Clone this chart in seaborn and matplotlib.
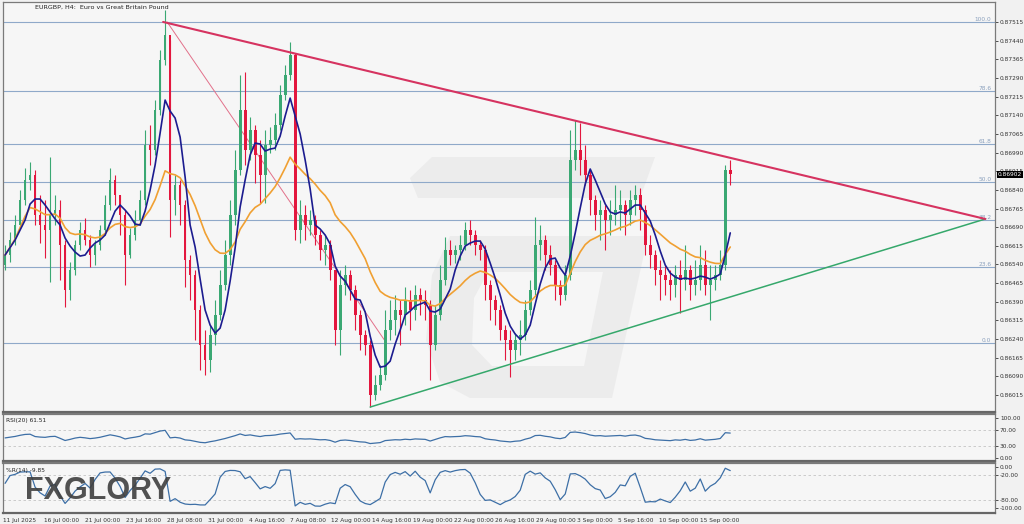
import numpy as np
import pandas as pd
import seaborn as sns
import matplotlib.pyplot as plt
import matplotlib.transforms as mtransforms
from matplotlib.patches import Polygon

# EURGBP H4 candles (one candle per ~2 bars), open = previous close
first_open = 0.86538
close = [0.86578, 0.86638, 0.86699, 0.86799, 0.86879, 0.86900, 0.86739, 0.86699, 0.86679, 0.86739,
         0.86759, 0.86618, 0.86437, 0.86518, 0.86618, 0.86679, 0.86638, 0.86578, 0.86618, 0.86679,
         0.86779, 0.86879, 0.86819, 0.86739, 0.86578, 0.86658, 0.86719, 0.86799, 0.87020, 0.87000,
         0.87161, 0.87362, 0.87462, 0.86799, 0.86859, 0.86779, 0.86558, 0.86498, 0.86357, 0.86216,
         0.86156, 0.86256, 0.86337, 0.86457, 0.86578, 0.86739, 0.86920, 0.87161, 0.87000, 0.87080,
         0.86980, 0.86900, 0.87020, 0.87040, 0.87100, 0.87221, 0.87302, 0.87382, 0.86679, 0.86739,
         0.86699, 0.86719, 0.86658, 0.86598, 0.86618, 0.86518, 0.86276, 0.86457, 0.86498, 0.86437,
         0.86337, 0.86256, 0.86216, 0.86015, 0.86055, 0.86095, 0.86276, 0.86317, 0.86357, 0.86337,
         0.86397, 0.86357, 0.86417, 0.86397, 0.86377, 0.86216, 0.86337, 0.86477, 0.86598, 0.86578,
         0.86598, 0.86618, 0.86679, 0.86658, 0.86618, 0.86598, 0.86457, 0.86397, 0.86357, 0.86276,
         0.86236, 0.86196, 0.86236, 0.86256, 0.86357, 0.86437, 0.86618, 0.86638, 0.86578, 0.86538,
         0.86457, 0.86417, 0.86498, 0.86960, 0.87000, 0.86960, 0.86900, 0.86799, 0.86739, 0.86759,
         0.86719, 0.86739, 0.86759, 0.86779, 0.86739, 0.86799, 0.86819, 0.86759, 0.86618, 0.86578,
         0.86518, 0.86498, 0.86477, 0.86457, 0.86498, 0.86477, 0.86518, 0.86457, 0.86477, 0.86538,
         0.86457, 0.86477, 0.86498, 0.86538, 0.86920, 0.86902]
high = [0.86618, 0.86670, 0.86739, 0.86839, 0.86928, 0.86952, 0.86920, 0.86819, 0.86799, 0.86972,
        0.86819, 0.86799, 0.86638, 0.86550, 0.86638, 0.86711, 0.86727, 0.86658, 0.86638, 0.86699,
        0.86819, 0.86928, 0.86900, 0.86819, 0.86759, 0.86687, 0.86759, 0.86839, 0.87080, 0.87100,
        0.87201, 0.87402, 0.87563, 0.87442, 0.86900, 0.86879, 0.86799, 0.86578, 0.86518, 0.86377,
        0.86276, 0.86297, 0.86397, 0.86518, 0.86638, 0.86799, 0.87000, 0.87302, 0.87314, 0.87133,
        0.87100, 0.87040, 0.87080, 0.87092, 0.87149, 0.87261, 0.87342, 0.87434, 0.87390, 0.86799,
        0.86779, 0.86759, 0.86739, 0.86679, 0.86658, 0.86638, 0.86518, 0.86518, 0.86538, 0.86518,
        0.86457, 0.86357, 0.86276, 0.86236, 0.86095, 0.86136, 0.86357, 0.86397, 0.86417, 0.86397,
        0.86449, 0.86437, 0.86457, 0.86445, 0.86437, 0.86397, 0.86377, 0.86538, 0.86650, 0.86638,
        0.86618, 0.86658, 0.86711, 0.86719, 0.86679, 0.86638, 0.86618, 0.86477, 0.86417, 0.86377,
        0.86297, 0.86276, 0.86264, 0.86317, 0.86397, 0.86477, 0.86731, 0.86699, 0.86658, 0.86618,
        0.86558, 0.86477, 0.86538, 0.87080, 0.87121, 0.87109, 0.87020, 0.86920, 0.86819, 0.86799,
        0.86779, 0.86799, 0.86859, 0.86839, 0.86799, 0.86839, 0.86859, 0.86847, 0.86779, 0.86658,
        0.86598, 0.86558, 0.86538, 0.86518, 0.86538, 0.86558, 0.86618, 0.86538, 0.86558, 0.86618,
        0.86598, 0.86538, 0.86538, 0.86598, 0.86940, 0.86960]
low = [0.86518, 0.86550, 0.86618, 0.86687, 0.86779, 0.86839, 0.86699, 0.86626, 0.86566, 0.86469,
       0.86699, 0.86477, 0.86369, 0.86397, 0.86498, 0.86598, 0.86618, 0.86530, 0.86538, 0.86598,
       0.86658, 0.86759, 0.86779, 0.86658, 0.86457, 0.86566, 0.86638, 0.86699, 0.86779, 0.86940,
       0.86980, 0.87141, 0.87342, 0.86650, 0.86739, 0.86699, 0.86449, 0.86397, 0.86236, 0.86115,
       0.86095, 0.86107, 0.86216, 0.86317, 0.86437, 0.86538, 0.86699, 0.86900, 0.86940, 0.86960,
       0.86867, 0.86787, 0.86787, 0.86988, 0.87000, 0.87080, 0.87201, 0.87281, 0.86638, 0.86626,
       0.86638, 0.86658, 0.86618, 0.86558, 0.86538, 0.86477, 0.86216, 0.86176, 0.86417, 0.86397,
       0.86276, 0.86196, 0.86176, 0.85967, 0.85995, 0.86035, 0.86075, 0.86236, 0.86256, 0.86216,
       0.86297, 0.86276, 0.86317, 0.86337, 0.86317, 0.86075, 0.86196, 0.86317, 0.86457, 0.86538,
       0.86546, 0.86558, 0.86598, 0.86618, 0.86578, 0.86558, 0.86397, 0.86317, 0.86297, 0.86236,
       0.86156, 0.86087, 0.86156, 0.86176, 0.86236, 0.86337, 0.86417, 0.86558, 0.86518, 0.86498,
       0.86397, 0.86377, 0.86397, 0.86477, 0.86920, 0.86900, 0.86859, 0.86739, 0.86679, 0.86638,
       0.86598, 0.86658, 0.86699, 0.86679, 0.86658, 0.86699, 0.86739, 0.86679, 0.86578, 0.86526,
       0.86457, 0.86397, 0.86417, 0.86397, 0.86409, 0.86345, 0.86437, 0.86397, 0.86417, 0.86437,
       0.86417, 0.86317, 0.86437, 0.86477, 0.86518, 0.86859]

last_price = 0.86902
price_ticks = [0.87515, 0.87440, 0.87365, 0.87290, 0.87215, 0.87140, 0.87065, 0.86990, 0.86915,
               0.86840, 0.86765, 0.86690, 0.86615, 0.86540, 0.86465, 0.86390, 0.86315, 0.86240,
               0.86165, 0.86090, 0.86015]

# fibonacci retracement drawn from the swing high to the swing low
fib_high = 0.87515
fib_low = 0.86226
fib_levels = [0.0, 23.6, 38.2, 50.0, 61.8, 78.6, 100.0]
fib_diag_bar = [32.4, 76.2]

# triangle trendlines (bar index, price)
res_bar = [31.6, 196.0]
res_price = [0.87515, 0.86723]
sup_bar = [73.0, 196.0]
sup_price = [0.85967, 0.86723]

date_labels = ["11 Jul 2025", "16 Jul 00:00", "21 Jul 00:00", "23 Jul 16:00", "28 Jul 08:00",
               "31 Jul 00:00", "4 Aug 16:00", "7 Aug 08:00", "12 Aug 00:00", "14 Aug 16:00",
               "19 Aug 00:00", "22 Aug 00:00", "26 Aug 16:00", "29 Aug 00:00", "3 Sep 00:00",
               "5 Sep 16:00", "10 Sep 00:00", "15 Sep 00:00"]
title = "EURGBP, H4:  Euro vs Great Britain Pound"
rsi_text = "RSI(20) 61.51"
wpr_text = "%R(14) -9.85"

# periods scaled for one candle ~ two H4 bars
fast_ma, slow_ma, rsi_period, wpr_period = 5, 10, 20, 7

df = pd.DataFrame({"close": close, "high": high, "low": low})
df["bar"] = np.arange(len(df))
df["open"] = df["close"].shift(1).fillna(first_open)
df["ma_fast"] = df["close"].rolling(fast_ma, min_periods=1).mean()
df["ma_slow"] = df["close"].ewm(span=slow_ma * 2, adjust=True).mean()

# wilder rsi, seeded with half the mean absolute move
delta = df["close"].diff().fillna(0)
seed = delta.abs().mean() / 2
gain = pd.concat([pd.Series([seed]), delta.clip(lower=0)], ignore_index=True)
loss = pd.concat([pd.Series([seed]), -delta.clip(upper=0)], ignore_index=True)
avg_gain = gain.ewm(alpha=1 / rsi_period, adjust=False).mean().iloc[1:].to_numpy()
avg_loss = loss.ewm(alpha=1 / rsi_period, adjust=False).mean().iloc[1:].to_numpy()
df["rsi"] = 100 - 100 / (1 + avg_gain / avg_loss)

hh = df["high"].rolling(wpr_period, min_periods=1).max()
ll = df["low"].rolling(wpr_period, min_periods=1).min()
df["wpr"] = (hh - df["close"]) / (hh - ll) * -100

sns.set_theme(style="white")
plt.rcParams["font.family"] = ["DejaVu Sans"]

GREEN = "#3aa873"
RED = "#e3173e"
PANEL = "#f6f6f6"
XMAX = 198.0
FS = 4.2

fig = plt.figure(figsize=(10.24, 5.24), dpi=100, facecolor="#f1f1f1")
ax = fig.add_axes([0.003, 0.2137, 0.969, 0.7824], facecolor=PANEL)
ax_rsi = fig.add_axes([0.003, 0.1202, 0.969, 0.0897], facecolor=PANEL)
ax_wpr = fig.add_axes([0.003, 0.0210, 0.969, 0.0954], facecolor=PANEL)


def px(x, y):
    return (x / 1024, 1 - y / 524)


# faint logo watermark in the middle of the chart
for pts in ([(432, 157), (655, 157), (640, 198), (418, 198), (410, 178)],
            [(450, 236), (648, 236), (612, 398), (470, 398), (440, 382), (426, 340), (432, 275)]):
    ax.add_patch(Polygon([px(*p) for p in pts], closed=True, transform=fig.transFigure,
                         facecolor="#ececec", edgecolor="none", zorder=0.5))
ax.add_patch(Polygon([px(*p) for p in [(488, 272), (603, 272), (584, 366), (492, 366), (472, 345), (474, 298)]],
                     closed=True, transform=fig.transFigure, facecolor=PANEL, edgecolor="none", zorder=0.6))

# fibonacci levels
for lvl in fib_levels:
    p = fib_low + (fib_high - fib_low) * lvl / 100
    ax.axhline(p, color="#8fa9c9", lw=0.8, zorder=1)
    ax.text(197.2, p, f"{lvl:.1f}", ha="right", va="bottom", fontsize=FS, color="#8aa0bd", zorder=2)
ax.plot(fib_diag_bar, [fib_high, fib_low], color="#e2708a", lw=0.7, zorder=1.5)

# candles
up = df["close"] >= df["open"]
colors = np.where(up, GREEN, RED)
ax.vlines(df["bar"], df["low"], df["high"], colors=colors, lw=0.8, zorder=3)
ax.bar(df["bar"], (df["close"] - df["open"]).abs().clip(lower=0.00002),
       bottom=np.minimum(df["open"], df["close"]), width=0.55, color=colors, linewidth=0, zorder=3)

# moving averages
sns.lineplot(data=df, x="bar", y="ma_slow", ax=ax, color="#f0a032", lw=1.2, zorder=4)
sns.lineplot(data=df, x="bar", y="ma_fast", ax=ax, color="#1c1c8f", lw=1.2, zorder=5)

# triangle
ax.plot(sup_bar, sup_price, color="#35a86b", lw=1.1, zorder=6)
ax.plot(res_bar, res_price, color="#d63360", lw=1.5, zorder=6)

ax.set_xlim(-0.4, XMAX)
ax.set_ylim(0.85947, 0.87595)
ax.set_xticks([])
ax.set_xlabel("")
ax.set_ylabel("")
ax.yaxis.tick_right()
ax.set_yticks(price_ticks)
ax.set_yticklabels([f"{t:.5f}" for t in price_ticks])
ax.text(6.0, 0.87575, title, fontsize=FS + 0.4, color="#222222", va="center", ha="left")
trans = mtransforms.blended_transform_factory(ax.transAxes, ax.transData)
ax.text(1.0025, last_price, f"{last_price:.5f}", transform=trans, fontsize=FS, color="white",
        va="center", ha="left", bbox=dict(boxstyle="square,pad=0.12", fc="black", ec="none"), zorder=10)

# RSI panel
for lvl in (30, 70):
    ax_rsi.axhline(lvl, color="#c4c4c4", lw=0.6, ls=(0, (3, 3)))
sns.lineplot(data=df, x="bar", y="rsi", ax=ax_rsi, color="#3d6fa6", lw=0.9)
ax_rsi.set_xlim(-0.4, XMAX)
ax_rsi.set_ylim(-7, 109)
ax_rsi.set_xticks([])
ax_rsi.yaxis.tick_right()
ax_rsi.set_yticks([100, 70, 30, 0])
ax_rsi.set_yticklabels(["100.00", "70.00", "30.00", "0.00"])
ax_rsi.set_xlabel("")
ax_rsi.set_ylabel("")
ax_rsi.text(0.003, 0.84, rsi_text, transform=ax_rsi.transAxes, fontsize=FS, color="#222222")

# Williams %R panel
for lvl in (-20, -80):
    ax_wpr.axhline(lvl, color="#c4c4c4", lw=0.6, ls=(0, (3, 3)))
sns.lineplot(data=df, x="bar", y="wpr", ax=ax_wpr, color="#3d6fa6", lw=0.9)
ax_wpr.set_xlim(-0.4, XMAX)
ax_wpr.set_ylim(-112, 9.5)
ax_wpr.yaxis.tick_right()
ax_wpr.set_yticks([0, -20, -80, -100])
ax_wpr.set_yticklabels(["0.00", "-20.00", "-80.00", "-100.00"])
ax_wpr.set_xlabel("")
ax_wpr.set_ylabel("")
ax_wpr.text(0.003, 0.82, wpr_text, transform=ax_wpr.transAxes, fontsize=FS, color="#222222")
tick_pos = [-0.4 + 8.2 * k for k in range(len(date_labels))]
ax_wpr.set_xticks(tick_pos)
ax_wpr.set_xticklabels(date_labels)
for lbl in ax_wpr.get_xticklabels():
    lbl.set_ha("left")

for a in (ax, ax_rsi, ax_wpr):
    a.tick_params(axis="y", which="both", right=True, length=2.5, width=0.6, pad=0.8,
                  labelsize=FS, colors="#333333")
    a.tick_params(axis="x", length=2.5, width=0.6, pad=0.8, labelsize=FS, colors="#333333")
    for side, sp in a.spines.items():
        sp.set_visible(True)
        sp.set_color("#7a7a7a")
        sp.set_linewidth(0.9)
    a.spines["bottom"].set_linewidth(1.6)
    a.spines["bottom"].set_color("#666666")
ax_rsi.spines["top"].set_linewidth(1.6)
ax_wpr.spines["top"].set_linewidth(1.6)

# broker watermark
fig.text(25 / 1024, 1 - 499 / 524, "FXGLORY", fontsize=22, fontweight="bold", color="#3f3f3f",
         family="Liberation Sans", alpha=0.9, zorder=20)

fig.savefig("out.png", dpi=100, facecolor=fig.get_facecolor())
